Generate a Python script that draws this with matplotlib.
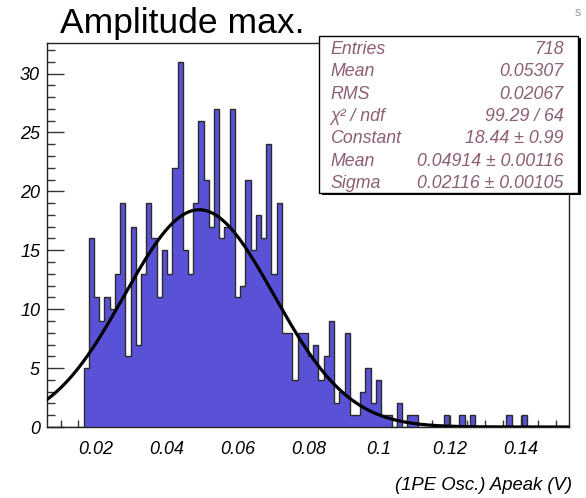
import numpy as np
import matplotlib
matplotlib.use("Agg")
import matplotlib.pyplot as plt
from matplotlib.patches import Rectangle

# ---------------- data ----------------
XMIN, XMAX, NBINS = 0.0061, 0.1537, 100
counts = ([0] * 7 +
          [5, 16, 11, 9, 11, 10, 13, 19, 6, 17, 7, 13, 19, 16, 11, 15, 13, 22, 31, 15,
           13, 19, 26, 21, 17, 27, 16, 17, 27, 11, 12, 21, 15, 18, 16, 24, 13, 19, 8] +
          [8, 4, 8, 8, 6, 7, 4, 6, 9, 2, 3, 8, 1] +
          [1, 3, 5, 2, 4, 1, 1, 0, 2, 0, 1, 1] +
          [0, 0, 0, 0, 0, 1, 0, 0, 1, 0, 1, 0, 0, 0, 0, 0, 0, 1, 0, 0, 1] +
          [0] * 8)
fit_constant, fit_mean, fit_sigma = 18.44, 0.04914, 0.02116
stat_labels = ["Entries", "Mean", "RMS", "χ² / ndf", "Constant", "Mean", "Sigma"]
stat_values = ["718", "0.05307", "0.02067", "99.29 / 64", "18.44 ± 0.99",
               "0.04914 ± 0.00116", "0.02116 ± 0.00105"]
xticks = [0.02, 0.04, 0.06, 0.08, 0.10, 0.12, 0.14]
xticklabels = ["0.02", "0.04", "0.06", "0.08", "0.1", "0.12", "0.14"]
yticks = [0, 5, 10, 15, 20, 25, 30]
title = "Amplitude max."
xlabel = "(1PE Osc.) Apeak (V)"

# ---------------- figure ----------------
W, H = 586, 498
FONT = "Liberation Sans"
plt.rcParams["font.family"] = [FONT, "DejaVu Sans"]
fig = plt.figure(figsize=(W / 100, H / 100), dpi=100)
fig.patch.set_facecolor("white")

def fx(x):
    return x / W

def fy(y):
    return 1 - y / H

ax_l, ax_r, ax_t, ax_b = 47, 569, 43.5, 427
ax = fig.add_axes([fx(ax_l), fy(ax_b), (ax_r - ax_l) / W, (ax_b - ax_t) / H])

edges = np.linspace(XMIN, XMAX, NBINS + 1)
FILL = "#5a52d6"
ax.stairs(counts, edges, fill=True, color=FILL, linewidth=0, zorder=2)
ax.stairs(counts, edges, color="#2a2a2a", linewidth=1.0, baseline=0, zorder=3)

xs = np.linspace(XMIN, XMAX, 600)
ys = fit_constant * np.exp(-0.5 * ((xs - fit_mean) / fit_sigma) ** 2)
ax.plot(xs, ys, color="black", linewidth=2.3, zorder=4, solid_capstyle="round")

ax.set_xlim(XMIN, XMAX)
ax.set_ylim(0, max(counts) * 1.05)

ax.set_xticks(xticks)
ax.set_xticklabels(xticklabels)
ax.set_xticks(np.arange(0.01, 0.1537, 0.005), minor=True)
ax.set_yticks(yticks)
ax.set_yticks(np.arange(0, 33, 1), minor=True)

for lab in ax.get_xticklabels() + ax.get_yticklabels():
    lab.set_fontstyle("italic")
    lab.set_fontsize(13)
    lab.set_family(FONT)

ax.tick_params(axis="x", which="major", direction="in", length=8.6, width=1, pad=10, color="#333333")
ax.tick_params(axis="x", which="minor", direction="in", length=5, width=1, color="#333333")
ax.tick_params(axis="y", which="major", direction="in", length=12, width=1, pad=5, color="#333333")
ax.tick_params(axis="y", which="minor", direction="in", length=6, width=1, color="#333333")
for s in ax.spines.values():
    s.set_linewidth(1.0)
    s.set_color("#222222")

# title
fig.text(fx(60), fy(33), title, fontsize=25.5, family=FONT, va="baseline", ha="left")
# clipped corner letter
fig.text(fx(575), fy(13), "s", fontsize=9, color="#999999", family=FONT, va="center", ha="left")

# x label
fig.text(fx(572), fy(485), xlabel, fontsize=13.3, style="italic", family=FONT,
         ha="right", va="center")

# stats box
bx_l, bx_r, bx_t, bx_b = 319, 578, 36, 193
sh = 2.5
fig.patches.append(Rectangle((fx(bx_l + sh), fy(bx_b + sh)), (bx_r - bx_l) / W, (bx_b - bx_t) / H,
                             transform=fig.transFigure, facecolor="black", edgecolor="black",
                             linewidth=0, zorder=9))
fig.patches.append(Rectangle((fx(bx_l), fy(bx_b)), (bx_r - bx_l) / W, (bx_b - bx_t) / H,
                             transform=fig.transFigure, facecolor="white", edgecolor="black",
                             linewidth=1.0, zorder=10))
TXT = "#8c5f73"
row0, drow = 49.5, 22.3
for i, (lab, val) in enumerate(zip(stat_labels, stat_values)):
    y = row0 + i * drow
    fig.text(fx(330.5), fy(y), lab, fontsize=12.8, style="italic", color=TXT, family=FONT,
             ha="left", va="center", zorder=11)
    fig.text(fx(563.5), fy(y), val, fontsize=12.8, style="italic", color=TXT, family=FONT,
             ha="right", va="center", zorder=11)

fig.savefig("out.png", dpi=100)
